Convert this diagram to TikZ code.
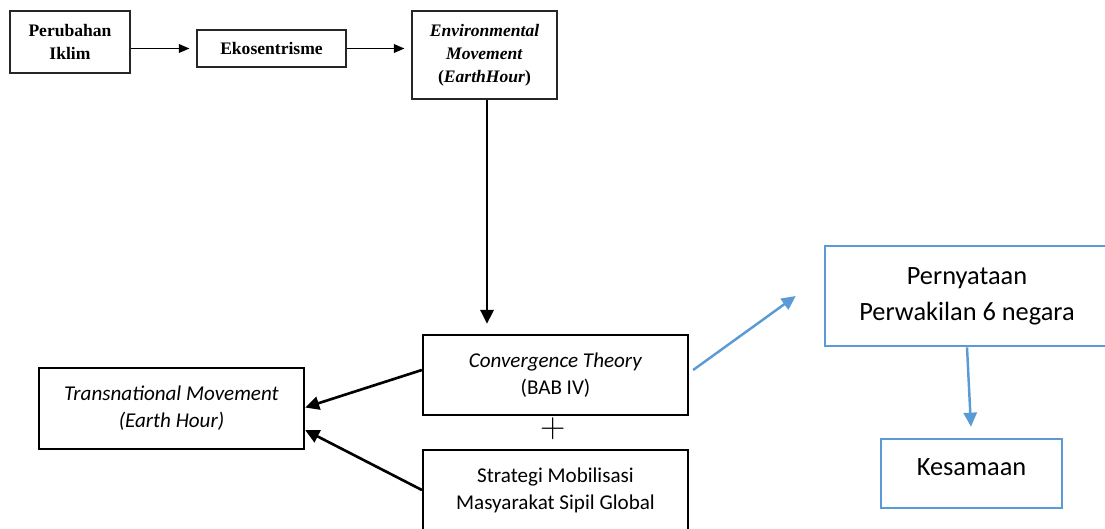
\documentclass[tikz,border=0pt]{standalone}
\usepackage{xcolor}
\usepackage{fontspec}
\usepackage{tikz}
\usetikzlibrary{arrows.meta}

\newfontfamily\calibrifont{Carlito}
\newfontfamily\timesfont{Liberation Serif}
\definecolor{boxBlue}{HTML}{5B9BD5}

\begin{document}
\begin{tikzpicture}[
        x=0.02cm, y=-0.02cm,
        topBox/.style={rectangle, draw=black!85, line width=0.7pt, align=center, inner sep=2pt, font=\timesfont\fontsize{10}{13}\selectfont\bfseries},
        mainBox/.style={rectangle, draw=black, line width=1.3pt, align=center, font=\calibrifont\fontsize{12}{15.5}\selectfont},
        blueBox/.style={rectangle, draw=boxBlue, line width=1.5pt, align=center, font=\calibrifont\fontsize{15}{20.4}\selectfont},
        thinArrow/.style={-{Triangle[length=6pt, width=5pt]}, line width=0.7pt},
        arrow/.style={-{Triangle[length=8pt, width=7.5pt]}, line width=1.5pt},
        blueArrow/.style={-{Triangle[length=8pt, width=7.5pt]}, line width=1.4pt, draw=boxBlue}
    ]
        \useasboundingbox (0,0) rectangle (1105,528);
        \clip (0,0) rectangle (1105,528);

        % ========== TOP ROW ==========
        \node[topBox, minimum width=2.4cm, minimum height=1.24cm] (perubahan) at (70,42) {Perubahan\\Iklim};
        \node[topBox, minimum width=2.98cm, minimum height=0.74cm] (ekosentrisme) at (271.5,48.5) {Ekosentrisme};
        \node[topBox, minimum width=2.9cm, minimum height=1.76cm] (envMovement) at (484.5,55) {\textit{Environmental}\\\textit{Movement}\\(\textit{EarthHour})};

        % Top row flow
        \draw[thinArrow, shorten >=0.14cm] (perubahan.east |- ekosentrisme.west) -- (ekosentrisme.west);
        \draw[thinArrow, shorten >=0.14cm] (ekosentrisme.east) -- (envMovement.west |- ekosentrisme.east);

        % ========== THEORY BOXES ==========
        \node[mainBox, minimum width=5.3cm, minimum height=1.6cm] (convergence) at (555.5,375) {\textit{Convergence Theory}\\(BAB IV)};
        \node (plusSign) at (553,429) {\fontsize{20}{20}\selectfont +};
        \node[mainBox, minimum width=5.3cm, minimum height=1.6cm] (strategi) at (555.5,490) {Strategi Mobilisasi\\Masyarakat Sipil Global};
        \node[mainBox, minimum width=5.3cm, minimum height=1.62cm] (transnational) at (171.5,408.5) {\textit{Transnational Movement}\\\textit{(Earth Hour)}};

        % Down to the theory, then left
        \draw[arrow, shorten >=0.2cm] ([xshift=0.05cm]envMovement.south) -- ([xshift=0.05cm]envMovement.south |- convergence.north);
        \draw[arrow] ([yshift=0.1cm]convergence.west) -- ([yshift=0.02cm]transnational.east);
        \draw[arrow] (strategi.west) -- ([yshift=-0.43cm]transnational.east);

        % ========== RIGHT SIDE (blue) ==========
        \node[blueBox, minimum width=5.68cm, minimum height=2cm] (pernyataan) at (967,296) {Pernyataan\\Perwakilan 6 negara};
        \node[blueBox, minimum width=3.62cm, minimum height=1.38cm, text depth=0.26cm] (kesamaan) at (971.5,473.5) {Kesamaan};

        \draw[blueArrow] ([xshift=0.08cm, yshift=0.1cm]convergence.east) -- ([xshift=-0.56cm]pernyataan.west);
        \draw[blueArrow, shorten >=0.22cm] (pernyataan.south) -- (kesamaan.north);

    \end{tikzpicture}
\end{document}
